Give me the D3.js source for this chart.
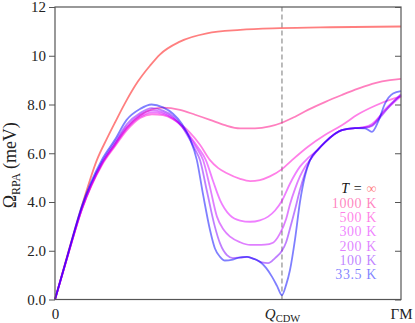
<!DOCTYPE html>
<html><head><meta charset="utf-8">
<script src="https://cdn.jsdelivr.net/npm/d3@7"></script>
<style>body{margin:0;background:#fff}svg{display:block}</style>
</head><body><svg id="c" width="415" height="323"></svg>
<script>
// x is path coordinate: 0 -> Gamma, 1 -> Gamma-M ; Q_CDW at 0.656
const Q_CDW = 0.656;
const yTickValues = [0, 2, 4, 6, 8, 10, 12];
const yTickLabels = ["0.0", "2.0", "4.0", "6.0", "8.0", "10", "12"];
const xTickValues = [0, Q_CDW, 1];
const xTickLabels = ["0", "Q_CDW", "\u0393M"];

const seriesLabels = ["T = \u221e", "1000 K", "500 K", "300 K", "200 K", "100 K", "33.5 K"];

const qInf = [0,.038,.078,.121,.150,.173,.208,.240,.275,.303,.361,.439,.535,.650,.795,1.0];
const vInf = [0,1.93,3.85,5.72,6.6,7.25,8.2,8.95,9.6,10.05,10.58,10.92,11.06,11.13,11.17,11.2];

const q1000 = [0,.038,.078,.135,.173,.208,.246,.280,.312,.361,.405,.448,.491,.535,.578,.621,.656,.694,.731,.780,.829,.876,.925,.968,1.0];
const v1000 = [0,1.86,3.72,5.55,6.35,7.05,7.55,7.8,7.87,7.78,7.58,7.37,7.15,7.02,7.02,7.1,7.25,7.5,7.78,8.1,8.39,8.65,8.88,9.0,9.05];

const q500 = [0,.038,.078,.135,.173,.208,.246,.280,.312,.341,.367,.390,.419,.448,.471,.497,.535,.564,.592,.621,.656,.685,.731,.780,.829,.876,.925,.974,1.0];
const v500 = [0,1.85,3.7,5.5,6.28,6.95,7.45,7.6,7.56,7.4,7.15,6.85,6.35,5.72,5.4,5.18,4.95,4.86,4.9,5.05,5.35,5.72,6.27,6.75,7.15,7.6,7.95,8.22,8.32];

const q300 = [0,.038,.078,.135,.173,.208,.246,.280,.312,.341,.367,.390,.413,.436,.457,.477,.506,.535,.564,.592,.616,.636,.656,.679,.708,.731,.760,.780,.829,.867,.896,.916,.954,1.0];
const v300 = [0,1.86,3.72,5.55,6.33,7.02,7.5,7.68,7.62,7.42,7.1,6.7,6.25,5.72,4.85,4.08,3.45,3.24,3.19,3.25,3.4,3.65,4.05,4.75,5.45,5.8,6.15,6.45,6.95,7.03,7.08,7.2,7.75,8.35];

const q200 = [0,.038,.078,.135,.173,.208,.246,.280,.312,.341,.367,.390,.410,.428,.448,.468,.488,.506,.535,.564,.584,.607,.630,.650,.668,.679,.694,.708,.723,.737,.760,.780,.829,.867,.896,.916,.954,1.0];
const v200 = [0,1.87,3.75,5.58,6.38,7.1,7.58,7.76,7.68,7.45,7.1,6.65,6.2,5.72,4.6,3.4,2.85,2.58,2.35,2.24,2.24,2.25,2.33,2.7,3.3,3.9,4.55,5.05,5.45,5.72,6.15,6.45,6.95,7.03,7.06,7.15,7.8,8.38];

const q100 = [0,.038,.078,.135,.173,.208,.246,.280,.312,.341,.367,.390,.405,.419,.439,.462,.477,.497,.514,.535,.555,.578,.598,.616,.636,.656,.668,.679,.694,.708,.723,.737,.760,.780,.829,.867,.896,.916,.939,.968,1.0];
const v100 = [0,1.88,3.8,5.62,6.45,7.2,7.65,7.85,7.75,7.52,7.1,6.55,6.15,5.72,4.45,2.99,2.3,1.82,1.7,1.72,1.75,1.65,1.52,1.49,1.7,2.0,2.35,2.9,3.7,4.5,5.2,5.72,6.15,6.45,6.95,7.03,7.05,7.12,7.45,7.95,8.42];

const q33 = [0,.038,.078,.135,.173,.207,.246,.279,.312,.341,.367,.390,.410,.428,.448,.462,.477,.491,.514,.535,.555,.572,.592,.610,.627,.642,.656,.668,.679,.694,.708,.723,.737,.760,.780,.829,.867,.896,.916,.934,.954,.977,1.0];
const v33 = [0,1.9,3.85,5.72,6.55,7.37,7.82,8.0,7.88,7.62,7.2,6.6,5.72,4.3,2.85,2.1,1.75,1.6,1.64,1.73,1.75,1.68,1.55,1.3,0.94,0.55,0.18,0.6,1.2,2.5,4.0,5.1,5.72,6.15,6.45,6.95,7.03,7.02,6.88,7.3,8.05,8.45,8.55];

const seriesQ = [qInf, q1000, q500, q300, q200, q100, q33];
const seriesV = [vInf, v1000, v500, v300, v200, v100, v33];
const baseColors = ["#ff0000", "#ff0080", "#ff00d0", "#e000ff", "#c000ff", "#8000ff", "#0000ff"];

const FONT = "Liberation Serif";
const svg = d3.select("#c").attr("font-family", FONT);
const W = 415, H = 323;
const m = {left: 55, right: 14, top: 7, bottom: 23.5};
const x = d3.scaleLinear().domain([0, 1]).range([m.left, W - m.right]);
const y = d3.scaleLinear().domain([0, 12]).range([H - m.bottom, m.top]);

// dashed Q_CDW line
svg.append("line")
  .attr("x1", x(Q_CDW)).attr("x2", x(Q_CDW))
  .attr("y1", y(0)).attr("y2", y(12))
  .attr("stroke", "#777").attr("stroke-width", 1)
  .attr("stroke-dasharray", "5,3");

const line = d3.line().curve(d3.curveMonotoneX)
  .x(d => x(d[0])).y(d => y(d[1]));

seriesQ.forEach((qs, i) => {
  const pts = qs.map((q, j) => [q, seriesV[i][j]]);
  svg.append("path").datum(pts)
    .attr("d", line)
    .attr("fill", "none")
    .attr("stroke", baseColors[i])
    .attr("stroke-opacity", 0.5)
    .attr("stroke-width", 1.8)
    .attr("stroke-linejoin", "round");
});

// frame
svg.append("rect")
  .attr("x", x(0)).attr("y", y(12))
  .attr("width", x(1) - x(0)).attr("height", y(0) - y(12))
  .attr("fill", "none").attr("stroke", "#555").attr("stroke-width", 1.2);

// y axis left
const yAxis = d3.axisLeft(y).tickValues(yTickValues)
  .tickFormat((d, i) => yTickLabels[i]).tickSizeInner(6).tickSizeOuter(0).tickPadding(3);
const gy = svg.append("g").attr("transform", `translate(${x(0)},0)`).call(yAxis);
gy.attr("font-family", FONT);
gy.select(".domain").remove();
gy.selectAll(".tick line").attr("stroke", "#555");
gy.selectAll(".tick text").attr("font-size", 15).attr("fill", "#222")
  .attr("font-family", FONT);

// y axis right (ticks inside)
const yAxisR = d3.axisLeft(y).tickValues(yTickValues).tickFormat("").tickSizeInner(6).tickSizeOuter(0);
const gyr = svg.append("g").attr("transform", `translate(${x(1)},0)`).call(yAxisR);
gyr.select(".domain").remove();
gyr.selectAll(".tick line").attr("stroke", "#555");

// x axis
const xAxis = d3.axisBottom(x).tickValues(xTickValues).tickFormat("").tickSize(0);
const gx = svg.append("g").attr("transform", `translate(0,${y(0)})`).call(xAxis);
gx.attr("font-family", FONT);
gx.select(".domain").remove();
gx.selectAll(".tick").each(function(d, i) {
  const t = d3.select(this).append("text")
    .attr("y", 19).attr("text-anchor", "middle")
    .attr("font-size", 15).attr("fill", "#222").attr("font-family", FONT);
  const lab = xTickLabels[i];
  if (lab.includes("_")) {
    const [a, b] = lab.split("_");
    t.append("tspan").attr("font-style", "italic").text(a);
    t.append("tspan").attr("font-size", 10.5).attr("dy", 3).text(b);
  } else {
    t.text(lab);
  }
});

// y label
const yl = svg.append("text")
  .attr("transform", `translate(16,${(y(0) + y(12)) / 2 + 12}) rotate(-90)`)
  .attr("text-anchor", "middle").attr("font-size", 18).attr("fill", "#222")
  .attr("font-family", FONT);
yl.append("tspan").text("\u03a9");
yl.append("tspan").attr("font-size", 12).attr("dy", 4).text("RPA");
yl.append("tspan").attr("dy", -4).text("\u2009(meV)");

// legend
const legX = 377, legY0 = 193.3, legDy = 14.3;
seriesLabels.forEach((lab, i) => {
  const t = svg.append("text")
    .attr("x", legX).attr("y", legY0 + i * legDy)
    .attr("text-anchor", "end").attr("font-size", 14)
    .attr("letter-spacing", 0.6)
    .attr("font-family", FONT);
  if (i === 0) {
    t.append("tspan").attr("font-style", "italic").attr("fill", "#111").text("T");
    t.append("tspan").attr("fill", "#111").text(" = ");
    t.append("tspan").attr("fill", baseColors[0]).attr("fill-opacity", 0.5).text("\u221e");
  } else {
    t.attr("fill", baseColors[i]).attr("fill-opacity", 0.5).text(lab);
  }
});
</script>
</body></html>
